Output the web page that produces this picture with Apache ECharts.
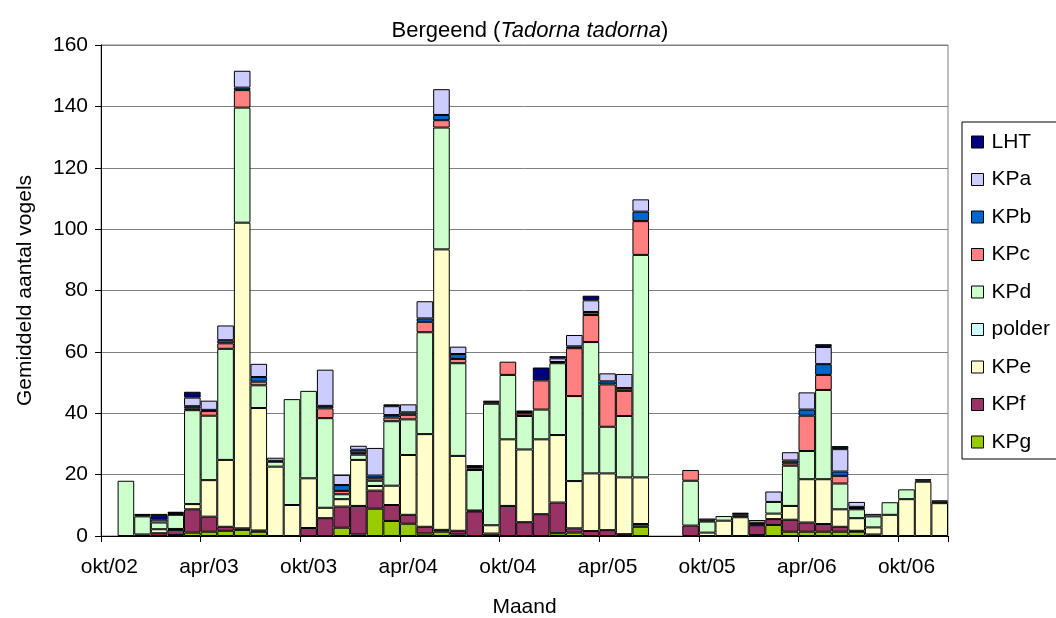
<!DOCTYPE html>
<html>
<head>
<meta charset="utf-8">
<script src="https://cdn.jsdelivr.net/npm/echarts@6/dist/echarts.min.js"></script>
<style>
html,body{margin:0;padding:0;background:#fff;}
#chart{width:1056px;height:618px;}
</style>
</head>
<body>
<div id="chart"></div>
<script>
// Categories (months, Dutch abbreviations)
const months = [
  'okt/02','nov/02','dec/02','jan/03','feb/03','mrt/03','apr/03','mei/03','jun/03','jul/03','aug/03','sep/03',
  'okt/03','nov/03','dec/03','jan/04','feb/04','mrt/04','apr/04','mei/04','jun/04','jul/04','aug/04','sep/04',
  'okt/04','nov/04','dec/04','jan/05','feb/05','mrt/05','apr/05','mei/05','jun/05','jul/05','aug/05','sep/05',
  'okt/05','nov/05','dec/05','jan/06','feb/06','mrt/06','apr/06','mei/06','jun/06','jul/06','aug/06','sep/06',
  'okt/06','nov/06','dec/06'
];

// Series values (average number of birds), one per month
const KPg = [0,0,0,0,0.3,1.1,1.4,1.7,2.0,1.4,0,0,
  0,0,2.7,0.5,8.9,4.9,4.0,0.8,1.4,0.5,0,0,
  0,0,0,0.9,1.1,0,0,0,3.0,0,0,0,
  0,0,0,0.3,3.6,1.4,1.4,1.4,1.4,1.4,0,0,
  0,0,0];
const KPf = [0,0,0.5,0.9,1.7,7.6,4.9,1.3,0.5,0.4,0,0,
  2.6,5.8,6.9,9.3,5.9,5.2,2.9,2.2,0.6,1.2,8.0,0.8,
  9.8,4.5,7.1,10.0,1.4,1.6,1.9,0.6,0.9,0,0,3.4,
  0,0,0,3.2,1.9,3.9,3.0,2.5,1.6,0.3,0.5,0,
  0,0,0];
const KPe = [0,0,0,1.3,0.3,1.7,11.9,21.8,99.6,39.9,22.6,10.1,
  16.2,3.4,2.4,15.0,1.5,6.3,19.5,30.2,91.4,24.4,0.3,2.7,
  21.7,23.7,24.4,22.0,15.4,18.8,18.5,18.5,15.2,0,0,0,
  1.1,5.0,6.1,0,1.8,4.5,14.1,14.6,5.7,4.1,2.3,6.9,
  12.0,17.7,10.7];
const polder = [0,0,0,0,0,0,0,0,0,0,0,0,
  0,0,0,0,0,0,0,0,0,0,0,0,
  0,0,0,0,0,0,0,0,0,0,0,0,
  0,0,0,0,0,0,0,0,0,0,0,0,
  0,0,0];
const KPd = [0,18.0,5.9,2.2,4.6,30.6,21.0,36.2,37.5,7.4,1.6,34.5,
  28.5,29.2,1.6,1.7,1.7,21.0,11.6,33.2,39.7,30.2,13.2,39.6,
  21.0,10.9,9.7,23.4,27.7,42.8,15.2,20.0,72.5,0,0,14.6,
  3.6,1.5,0.5,0.3,3.8,13.1,9.2,29.1,8.4,2.9,3.6,4.1,
  3.2,0.4,0.5];
const KPc = [0,0,0,0,0.3,0.6,1.5,1.8,5.7,1.2,0,0,
  0,3.2,1.1,0.6,0.8,1.2,1.5,3.4,2.4,1.4,0.5,0.5,
  4.3,0.8,9.5,0.4,15.6,8.8,13.8,8.2,11.0,0,0,3.5,
  0,0,0,0,0,0.8,11.5,4.9,2.5,0.4,0,0,
  0,0,0];
const KPb = [0,0,0,0,0.3,0.7,0.4,1.0,0.8,1.5,0.3,0,
  0,0.8,1.9,1.0,0.9,0.8,0.8,1.1,1.7,1.6,0.5,0,
  0,0,0,0,0.6,1.0,1.0,0.9,3.1,0,0,0,
  0.4,0,0,0.5,0,0.9,2.0,3.5,1.4,0.4,0,0,
  0,0,0];
const KPa = [0,0,0.4,0.9,0.4,2.8,3.0,4.8,5.5,4.3,1.0,0,
  0,11.8,3.3,1.3,9.0,2.9,2.6,5.6,8.4,2.4,0,0.5,
  0,0.5,0,1.2,3.7,3.8,2.6,4.6,4.0,0,0,0,
  0.6,0,0.5,0.9,3.4,2.7,5.6,5.6,7.3,1.6,0.8,0,
  0,0.4,0.4];
const LHT = [0,0,0.4,1.9,0,1.9,0,0,0,0,0,0,
  0,0,0,0,0,0.6,0,0,0,0,0.6,0,
  0,0.5,4.2,0.7,0,1.5,0,0,0,0,0,0,
  0,0,0.5,0,0,0,0,0.9,1.0,0,0,0,
  0,0,0];

const yTicks = {min: 0, max: 160, interval: 20};

const font = "'Liberation Sans', Arial, sans-serif";
const fs = 21;
const colors = {
  LHT: '#000080', KPa: '#CCCCFF', KPb: '#0066CC', KPc: '#FF8080', KPd: '#CCFFCC',
  polder: '#CCFFFF', KPe: '#FFFFCC', KPf: '#993366', KPg: '#99CC00'
};
const stackOrder = [
  ['KPg', KPg], ['KPf', KPf], ['KPe', KPe], ['polder', polder], ['KPd', KPd],
  ['KPc', KPc], ['KPb', KPb], ['KPa', KPa], ['LHT', LHT]
];

const series = stackOrder.map(([name, vals]) => ({
  name: name,
  type: 'bar',
  stack: 'total',
  barCategoryGap: '0%',
  data: vals.map(v => v > 0 ? v : '-'),
  itemStyle: {color: colors[name], borderColor: '#000', borderWidth: 1},
  emphasis: {disabled: true},
  animation: false
}));

const chart = echarts.init(document.getElementById('chart'), null, {renderer: 'canvas'});
chart.setOption({
  backgroundColor: '#fff',
  animation: false,
  title: {
    text: '{a|Bergeend (}{b|Tadorna tadorna}{a|)}',
    left: 525, top: 15, textAlign: 'center',
    textStyle: {
      fontWeight: 'normal',
      rich: {
        a: {fontFamily: font, fontSize: 22, color: '#000', fontWeight: 'normal'},
        b: {fontFamily: font, fontSize: 22, color: '#000', fontStyle: 'italic', fontWeight: 'normal'}
      }
    }
  },
  legend: {
    orient: 'vertical',
    left: 962, top: 122,
    data: ['LHT','KPa','KPb','KPc','KPd','polder','KPe','KPf','KPg'],
    itemWidth: 12, itemHeight: 12, itemGap: 16.5,
    padding: [9.5, 40, 6.5, 9],
    borderColor: '#000', borderWidth: 1,
    icon: 'rect',
    textStyle: {fontFamily: font, fontSize: fs, color: '#000', padding: [0,0,0,3]},
    itemStyle: {borderColor: '#000', borderWidth: 1}
  },
  grid: {
    left: 101, right: 108, top: 45, bottom: 82,
    outerBoundsMode: 'none',
    containLabel: false,
    show: true, borderColor: '#808080', borderWidth: 1
  },
  xAxis: {
    type: 'category',
    data: months,
    name: 'Maand',
    nameLocation: 'middle',
    nameGap: 61,
    nameTextStyle: {fontFamily: font, fontSize: fs, color: '#000'},
    axisLine: {lineStyle: {color: '#000', width: 1}},
    axisTick: {show: true, interval: (i) => i % 6 === 0, length: 6, lineStyle: {color: '#000'}},
    axisLabel: {interval: (i) => i % 6 === 0, fontFamily: font, fontSize: fs, color: '#000', margin: 21},
    splitLine: {show: false}
  },
  yAxis: {
    type: 'value',
    min: yTicks.min, max: yTicks.max, interval: yTicks.interval,
    name: 'Gemiddeld aantal vogels',
    nameLocation: 'middle',
    nameGap: 65,
    nameTextStyle: {fontFamily: font, fontSize: fs, color: '#000'},
    axisLine: {show: true, lineStyle: {color: '#000', width: 1}},
    axisTick: {show: true, length: 6, lineStyle: {color: '#000'}},
    axisLabel: {fontFamily: font, fontSize: fs, color: '#000', margin: 13},
    splitLine: {show: true, lineStyle: {color: '#808080', width: 1}}
  },
  series: series
});
</script>
</body>
</html>
